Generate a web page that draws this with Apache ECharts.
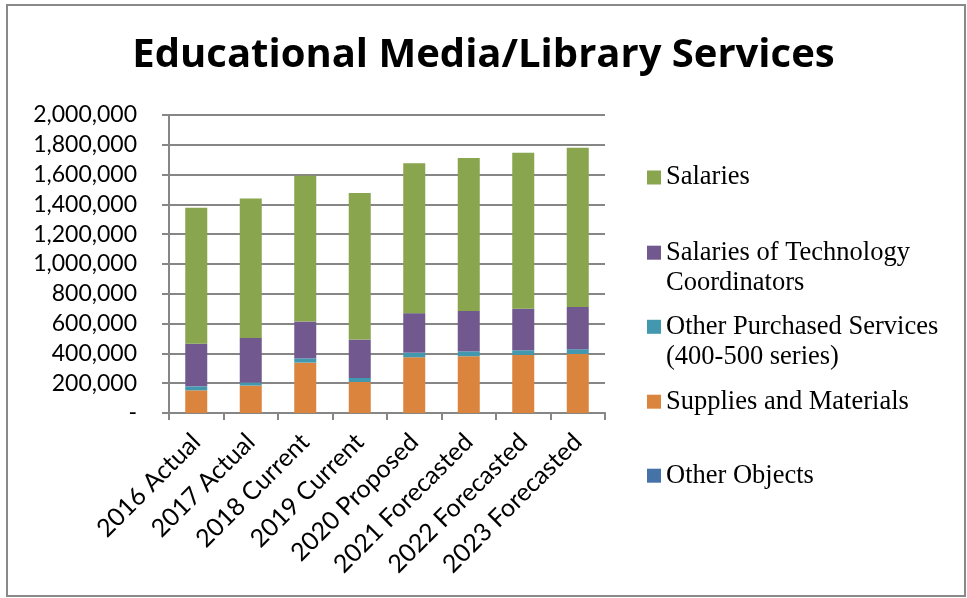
<!DOCTYPE html>
<html>
<head>
<meta charset="utf-8">
<script src="https://cdn.jsdelivr.net/npm/echarts@6/dist/echarts.min.js"></script>
<style>html,body{margin:0;padding:0;background:#fff}#c{width:967px;height:598px}</style>
</head>
<body>
<div id="c"></div>
<script>
const categories = ['2016 Actual','2017 Actual','2018 Current','2019 Current','2020 Proposed','2021 Forecasted','2022 Forecasted','2023 Forecasted'];
const otherObjects = [0,0,0,0,0,0,0,0];
const supplies = [152000,184000,338000,208000,374000,381000,390000,396000];
const otherServices = [27000,20000,29000,27000,31000,33000,31000,32000];
const techSalaries = [285000,300000,247000,258000,265000,271000,278000,284000];
const salaries = [913000,936000,979000,983000,1007000,1026000,1048000,1069000];
const yTicks = [0,200000,400000,600000,800000,1000000,1200000,1400000,1600000,1800000,2000000];

const seriesDefs = [
  {name:'Other Objects', data: otherObjects, color:'#4572A7'},
  {name:'Supplies and Materials', data: supplies, color:'#DB843D'},
  {name:'Other Purchased Services\n(400-500 series)', data: otherServices, color:'#4198AF'},
  {name:'Salaries of Technology\nCoordinators', data: techSalaries, color:'#71588F'},
  {name:'Salaries', data: salaries, color:'#89A54E'}
];
const legendCenters = {'Salaries':177.5,'Salaries of Technology\nCoordinators':252.7,'Other Purchased Services\n(400-500 series)':326.8,'Supplies and Materials':401.7,'Other Objects':475.7};

const chart = echarts.init(document.getElementById('c'), null, {renderer:'canvas'});
const legends = Object.keys(legendCenters).map(n => {
  const multi = n.indexOf('\n') >= 0;
  return {
    data:[n], left: 647, top: legendCenters[n] - (multi ? 45 : 15), padding:0,
    itemWidth:14, itemHeight:14, itemGap:0, icon:'rect',
    selectedMode:false,
    formatter: name => multi ? '\n' + name : name,
    textStyle:{fontFamily:'Liberation Serif', fontSize:26.5, color:'#000', lineHeight:30}
  };
});
chart.setOption({
  animation:false,
  title:{text:'Educational Media/Library Services', left:'center', top:31,
    textStyle:{fontFamily:'Open Sans', fontWeight:'bold', fontSize:40, color:'#000'}},
  graphic:[{type:'rect', shape:{x:7,y:5,width:958,height:591}, style:{fill:'none', stroke:'#898989', lineWidth:2}, silent:true}],
  legend: legends,
  grid:{left:169, right:362, top:115, bottom:185},
  xAxis:{type:'category', data:categories,
    axisLine:{lineStyle:{color:'#868686', width:2}},
    axisTick:{show:true, length:7, lineStyle:{color:'#868686', width:2}},
    axisLabel:{rotate:45, margin:25, fontFamily:'Lato', fontSize:25, color:'#000', interval:0}},
  yAxis:{type:'value', min:0, max:2000000, interval:200000,
    axisLine:{show:true, lineStyle:{color:'#868686', width:2}},
    axisTick:{show:true, length:7, lineStyle:{color:'#868686', width:2}},
    splitLine:{lineStyle:{color:'#868686', width:2}},
    axisLabel:{margin:32, fontFamily:'Lato', fontSize:23, color:'#000',
      formatter: v => v === 0 ? '-' : (yTicks.indexOf(v) >= 0 ? v.toLocaleString('en-US') : '')}},
  series: seriesDefs.map(s => ({
    type:'bar', name:s.name, stack:'total', data:s.data, barWidth:22,
    itemStyle:{color:s.color}
  }))
});
</script>
</body>
</html>
